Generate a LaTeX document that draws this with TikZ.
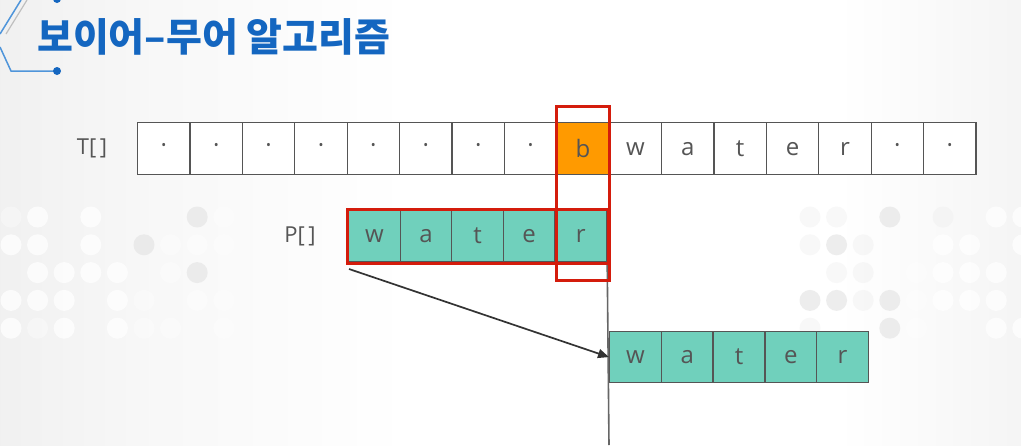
\documentclass[tikz,border=0pt]{standalone}
\usepackage{fontspec}
\setmainfont{Open Sans}
\newfontfamily\kr{Noto Sans CJK KR}
\usetikzlibrary{arrows.meta}
\definecolor{teal1}{HTML}{70D0BC}
\definecolor{orng}{HTML}{FF9A00}
\definecolor{redb}{HTML}{D41C0C}
\definecolor{txtg}{HTML}{555555}
\definecolor{cellb}{HTML}{555555}
\definecolor{titleb}{HTML}{1466C0}
\definecolor{circb}{HTML}{4F95DA}
\definecolor{bgg}{HTML}{D8D8D8}
\pgfdeclarehorizontalshading{bgsh}{100bp}{color(0bp)=(bgg); color(32bp)=(white!97!black); color(45bp)=(white); color(66bp)=(white); color(100bp)=(bgg)}
\tikzset{
  cell/.style={draw=cellb, line width=1.2pt, minimum width=52.4pt, minimum height=52pt, inner sep=0pt, font=\fontsize{24}{24}\selectfont, text=txtg, anchor=north west},
  pcell/.style={cell, fill=teal1, minimum width=51.6pt, minimum height=51pt},
  lbl/.style={font=\fontsize{22}{22}\selectfont, text=txtg},
  redbox/.style={draw=redb, line width=3pt},
  dw/.style={fill=white, opacity=0.75},
  df/.style={fill=white, opacity=0.35},
  dg/.style={fill=black!12, opacity=0.55},
  dfg/.style={fill=black!8, opacity=0.35},
}
\begin{document}
\begin{tikzpicture}[x=1pt,y=-1pt]
\useasboundingbox (0,0) rectangle (1021,445);
\shade[shading=bgsh] (0,0) rectangle (1021,445);
% decorative dots left
\foreach \c/\r/\s in {0/0/df,1/0/dw,3/0/dw,7/0/dg,8/0/df,
  0/1/dw,1/1/dw,3/1/dw,5/1/dg,6/1/df,7/1/df,8/1/df,
  1/2/dw,2/2/dw,3/2/dw,4/2/dw,6/2/df,7/2/dg,
  0/3/dw,1/3/dw,2/3/dw,4/3/dw,5/3/df,7/3/df,8/3/df,
  0/4/dw,1/4/df,2/4/dw,4/4/dw,5/4/df,6/4/df,8/4/df}
  \fill[\s] (11+26.6*\c, 217+27.8*\r) circle (10.5);
% decorative dots right
\foreach \c/\r/\s in {0/0/dfg,1/0/dfg,3/0/dg,5/0/dfg,7/0/dw,8/0/dw,
  0/1/dfg,1/1/dg,2/1/dfg,5/1/dw,6/1/dw,8/1/dw,
  1/2/dfg,2/2/dfg,4/2/df,5/2/dw,6/2/dw,7/2/dw,
  0/3/dg,1/3/dg,2/3/dfg,3/3/dg,4/3/df,5/3/dw,6/3/dw,7/3/dw,
  0/4/dfg,3/4/dg,4/4/df,7/4/dw,8/4/dw}
  \fill[\s] (810+26.6*\c, 217+27.8*\r) circle (10.5);
% circuit decoration
\draw[circb, line width=1.5pt] (0,47) -- (11,71) -- (57,71);
\fill[titleb] (57,71) circle (4);
\draw[circb, line width=1.5pt] (21,0) -- (0,34);
\draw[black!25, line width=1.2pt] (27,0) -- (6,34);
\draw[circb, line width=1.5pt] (22,-1) -- (57,-1);
\fill[titleb] (57,-1) circle (4);
% title
\node[anchor=west, text=titleb, font=\kr\bfseries\fontsize{39}{39}\selectfont, inner sep=0pt] (title) at (37,37) {보이어–무어 알고리즘};
% T row
\node[lbl] (tl) at (92,148) {T[\,]};
\foreach \t [count=\i from 0] in {\textperiodcentered,\textperiodcentered,\textperiodcentered,\textperiodcentered,\textperiodcentered,\textperiodcentered,\textperiodcentered,\textperiodcentered,b,w,a,t,e,r,\textperiodcentered,\textperiodcentered}
  \node[cell, fill=white] (t\i) at (137+52.4*\i,122) {\t};
\node[cell, fill=orng] (t8b) at (t8.north west) {b};
% P row
\node[lbl] (pl) at (300,236) {P[\,]};
\foreach \t [count=\i from 0] in {w,a,t,e,r}
  \node[pcell] (p\i) at (348+51.6*\i,210) {\t};
% shifted P row
\foreach \t [count=\i from 0] in {w,a,t,e,r}
  \node[pcell] (q\i) at (609+51.8*\i,331) {\t};
% vertical line
\coordinate (vb) at (609,445);
\draw[black!60, line width=1.6pt] (p4.south east) -- (vb);
% red boxes
\draw[redbox] ([shift={(-1,-1)}]p0.north west) rectangle ([shift={(1,1)}]p4.south east);
\draw[redbox] ([shift={(0,-16)}]t8.north west) rectangle ([shift={(0,18)}]t8.south east |- p4.south east);
% arrow
\coordinate (as) at (349,269);
\draw[-{Triangle[length=11pt,width=9pt]}, black!80, line width=1.7pt] (as) -- (q0.west);
\end{tikzpicture}
\end{document}
